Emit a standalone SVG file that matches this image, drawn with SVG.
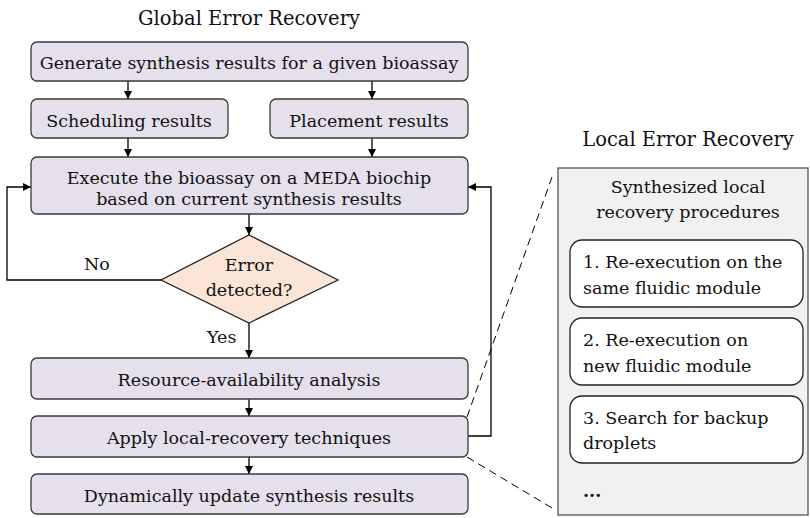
<svg xmlns="http://www.w3.org/2000/svg" width="810" height="518" viewBox="0 0 810 518">
<defs>
<marker id="ah" viewBox="0 0 10 10" refX="10" refY="5" markerWidth="8" markerHeight="8" markerUnits="userSpaceOnUse" orient="auto">
<path d="M0,0 L10,5 L0,10 z" fill="#000"/>
</marker>
<style>
text{font-family:"DejaVu Serif","Liberation Serif",serif;fill:#111;}
.t{font-size:17.5px;text-anchor:middle;}
.h{font-size:19.5px;text-anchor:middle;}
.l{font-size:17.5px;}
.box{fill:#e5e0ec;stroke:#3a3a3a;stroke-width:1.3;}
.wbox{fill:#fff;stroke:#222;stroke-width:1.3;}
.con{fill:none;stroke:#000;stroke-width:1.3;}
.dash{fill:none;stroke:#000;stroke-width:1;stroke-dasharray:8,5;}
</style>
</defs>
<rect width="810" height="518" fill="#fff"/>
<text class="h" x="249" y="25">Global Error Recovery</text>
<text class="h" x="688" y="146">Local Error Recovery</text>

<g id="connectors">
<line class="con" x1="128" y1="81" x2="128" y2="99" marker-end="url(#ah)"/>
<line class="con" x1="372" y1="81" x2="372" y2="99" marker-end="url(#ah)"/>
<line class="con" x1="128" y1="138" x2="128" y2="157" marker-end="url(#ah)"/>
<line class="con" x1="372" y1="138" x2="372" y2="157" marker-end="url(#ah)"/>
<line class="con" x1="249" y1="214" x2="249" y2="235" marker-end="url(#ah)"/>
<polyline class="con" points="161,280 7,280 7,187 31,187" marker-end="url(#ah)"/>
<line class="con" x1="249" y1="323" x2="249" y2="358" marker-end="url(#ah)"/>
<line class="con" x1="249" y1="399" x2="249" y2="416" marker-end="url(#ah)"/>
<line class="con" x1="249" y1="457" x2="249" y2="474" marker-end="url(#ah)"/>
<polyline class="con" points="468,436 491,436 491,187 468,187" marker-end="url(#ah)"/>
<line class="dash" x1="467" y1="417" x2="552" y2="177"/>
<line class="dash" x1="467" y1="457" x2="552" y2="508"/>
<text class="l" x="84" y="270">No</text>
<text class="l" x="207" y="343">Yes</text>
</g>

<g id="n-generate">
<rect class="box" x="31" y="42" width="437" height="39" rx="6"/>
<text class="t" x="249" y="69">Generate synthesis results for a given bioassay</text>
</g>
<g id="n-scheduling">
<rect class="box" x="31" y="99" width="197" height="39" rx="6"/>
<text class="t" x="129" y="127">Scheduling results</text>
</g>
<g id="n-placement">
<rect class="box" x="270" y="99" width="198" height="39" rx="6"/>
<text class="t" x="369" y="127">Placement results</text>
</g>
<g id="n-execute">
<rect class="box" x="31" y="157" width="437" height="57" rx="6"/>
<text class="t" x="249" y="184">Execute the bioassay on a MEDA biochip</text>
<text class="t" x="249" y="205">based on current synthesis results</text>
</g>
<g id="n-error">
<polygon points="249,235 338,280 249,323 161,280" fill="#fbe5d6" stroke="#222" stroke-width="1.3"/>
<text class="t" x="249" y="271">Error</text>
<text class="t" x="249" y="296">detected?</text>
</g>
<g id="n-resource">
<rect class="box" x="31" y="358" width="437" height="41" rx="6"/>
<text class="t" x="249" y="386">Resource-availability analysis</text>
</g>
<g id="n-apply">
<rect class="box" x="31" y="416" width="437" height="41" rx="6"/>
<text class="t" x="249" y="444">Apply local-recovery techniques</text>
</g>
<g id="n-update">
<rect class="box" x="31" y="474" width="437" height="40" rx="6"/>
<text class="t" x="249" y="502">Dynamically update synthesis results</text>
</g>

<g id="n-local">
<rect x="558" y="168" width="250" height="347" fill="#f1f1f1" stroke="#555" stroke-width="1.3"/>
<text class="t" x="688" y="193">Synthesized local</text>
<text class="t" x="688" y="218">recovery procedures</text>
</g>
<g id="n-proc1">
<rect class="wbox" x="570" y="240" width="233" height="67" rx="12"/>
<text class="l" x="583" y="268">1. Re-execution on the</text>
<text class="l" x="583" y="294">same fluidic module</text>
</g>
<g id="n-proc2">
<rect class="wbox" x="570" y="318" width="233" height="67" rx="12"/>
<text class="l" x="583" y="346">2. Re-execution on</text>
<text class="l" x="583" y="372">new fluidic module</text>
</g>
<g id="n-proc3">
<rect class="wbox" x="570" y="396" width="233" height="67" rx="12"/>
<text class="l" x="583" y="424">3. Search for backup</text>
<text class="l" x="583" y="449">droplets</text>
</g>
<g id="n-more">
<text class="l" x="583" y="497" font-weight="bold">...</text>
</g>
</svg>
